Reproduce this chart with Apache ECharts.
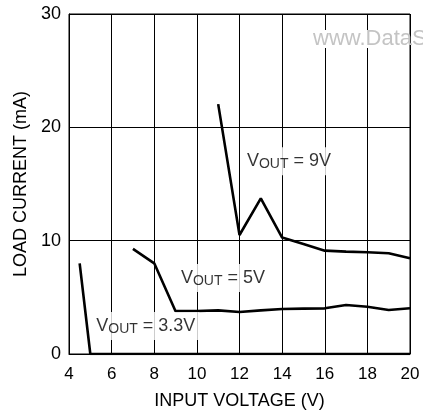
<!DOCTYPE html>
<html>
<head>
<meta charset="utf-8">
<script src="https://cdn.jsdelivr.net/npm/echarts@6/dist/echarts.min.js"></script>
<style>
  html, body { margin: 0; padding: 0; background: #fff; }
  #chart { width: 423px; height: 416px; }
</style>
</head>
<body>
<div id="chart"></div>
<script>
// Load current vs. input voltage for three output settings
const xTicks = { min: 4, max: 20, interval: 2 };
const yTicks = { min: 0, max: 30, interval: 10 };

const vout33 = [[4.5, 8.0], [5, 0], [20, 0]];
const vout5 = [[7, 9.27], [8, 8.0], [9, 3.78], [10, 3.8], [11, 3.85], [12, 3.71], [13, 3.85],
               [14, 3.97], [15, 4.0], [16, 4.03], [17, 4.32], [18, 4.17], [19, 3.88], [20, 4.03]];
const vout9 = [[11, 22.05], [12, 10.5], [13, 13.74], [14, 10.27], [15, 9.7], [16, 9.12],
               [17, 9.03], [18, 8.98], [19, 8.89], [20, 8.45]];

// Curve captions: [x, y, value text]
const captions = [
  [12.35, 17.0, '9V'],
  [9.25, 6.7, '5V'],
  [5.28, 2.47, '3.3V']
];

const font = '"Liberation Sans", Arial, Helvetica, sans-serif';
const chart = echarts.init(document.getElementById('chart'), null, { renderer: 'canvas' });

function curve(data) {
  return {
    type: 'line',
    data: data,
    showSymbol: false,
    symbol: 'none',
    lineStyle: { color: '#000', width: 2.6 },
    z: 3,
    silent: true
  };
}

chart.setOption({
  animation: false,
  backgroundColor: '#fff',
  grid: {
    left: 69, right: 13, top: 14, bottom: 62,
    show: true, borderColor: '#000', borderWidth: 1
  },
  xAxis: {
    type: 'value',
    min: xTicks.min, max: xTicks.max, interval: xTicks.interval,
    name: 'INPUT VOLTAGE (V)',
    nameLocation: 'middle',
    nameGap: 38,
    nameTextStyle: { fontFamily: font, fontSize: 18, color: '#000' },
    axisLine: { show: true, lineStyle: { color: '#000', width: 1 } },
    axisTick: { show: false },
    axisLabel: { fontFamily: font, fontSize: 17, color: '#000', margin: 12 },
    splitLine: { show: true, lineStyle: { color: '#000', width: 1 } }
  },
  yAxis: {
    type: 'value',
    min: yTicks.min, max: yTicks.max, interval: yTicks.interval,
    name: 'LOAD CURRENT (mA)',
    nameLocation: 'middle',
    nameGap: 38,
    nameTextStyle: { fontFamily: font, fontSize: 18, color: '#000' },
    axisLine: { show: true, lineStyle: { color: '#000', width: 1 } },
    axisTick: { show: false },
    axisLabel: { fontFamily: font, fontSize: 18, color: '#000', margin: 8 },
    splitLine: { show: true, lineStyle: { color: '#000', width: 1 } }
  },
  graphic: [
    { type: 'rect', shape: { x: 313, y: 30, width: 95, height: 18 }, style: { fill: '#fff' }, z: 100 },
    {
      type: 'text', x: 313, y: 39, z: 101,
      style: {
        text: 'www.DataSheet4U.com',
        font: '22px ' + font,
        fill: '#c4c4c4',
        verticalAlign: 'middle'
      }
    }
  ],
  series: [
    curve(vout33),
    curve(vout5),
    curve(vout9),
    {
      type: 'scatter',
      data: captions.map(c => ({ value: [c[0], c[1]], caption: c[2] })),
      symbolSize: 0,
      silent: true,
      z: 5,
      label: {
        show: true,
        position: 'right',
        distance: 0,
        offset: [-4, 0],
        backgroundColor: '#fff',
        padding: [4, 4, 4, 4],
        formatter: p => '{v|V}{s|OUT}{v| = ' + p.data.caption + '}',
        rich: {
          v: { fontFamily: font, fontSize: 18, color: '#000', lineHeight: 20 },
          s: { fontFamily: font, fontSize: 14, color: '#000', lineHeight: 4, verticalAlign: 'bottom' }
        }
      }
    }
  ]
});
</script>
</body>
</html>
